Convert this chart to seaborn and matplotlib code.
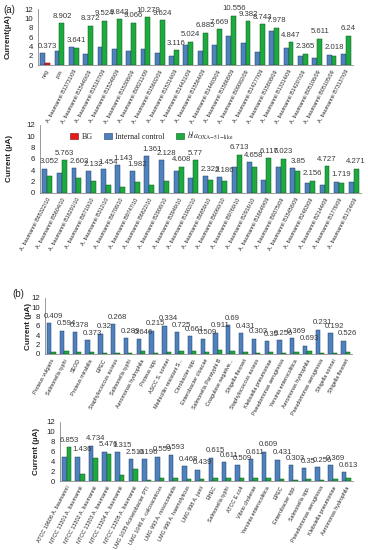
import numpy as np
import pandas as pd
import matplotlib
matplotlib.use("Agg")
import matplotlib.pyplot as plt
from matplotlib.patches import Patch
import seaborn as sns

sns.set_style("white")
plt.rcParams['font.family'] = ['Liberation Sans', 'DejaVu Sans']
plt.rcParams['mathtext.fontset'] = 'stix'

# ---------------- data ----------------
a1_cats = ['neg', 'pos', 'A. baumannii B13731/09', 'A. baumannii B15440/09', 'A. baumannii B15187/09',
           'A. baumannii B15348/09', 'A. baumannii B15308/09', 'A. baumannii B08211/09',
           'A. baumannii B15602/09', 'A. baumannii B15314/09', 'A. baumannii B14431/09',
           'A. baumannii B15564/09', 'A. baumannii B14403/09', 'A. baumannii B15868/09',
           'A. baumannii B09082/09', 'A. baumannii B14277/09', 'A. baumannii B15808/09',
           'A. baumannii B13314/09', 'A. baumannii B14207/09', 'A. baumannii B05106/09',
           'A. baumannii B05105/09', 'A. baumannii B73137/09']
a1_control = [2.5, 2.9, 3.8, 2.3, 3.9, 3.4, 3.1, 3.4, 2.6, 2.0, 4.2, 2.9, 4.3, 6.3, 4.7, 2.8, 7.3, 3.6, 1.9, 1.5, 2.2, 2.4]
a1_target = [0.373, 8.902, 3.641, 8.372, 9.524, 9.843, 9.066, 10.279, 9.624, 3.116, 5.024,
             6.885, 7.669, 10.556, 9.382, 8.743, 7.978, 4.847, 2.365, 5.611, 2.018, 6.24]

a2_cats = ['A. baumannii B65322/10', 'A. baumannii B5604/10', 'A. baumannii B16291/10',
           'A. baumannii B8710/10', 'A. baumannii B312/10', 'A. baumannii B6708/10',
           'A. baumannii B9747/10', 'A. baumannii B6822/10', 'A. baumannii B2908/10',
           'A. baumannii B3949/10', 'A. baumannii B1902/10', 'A. baumannii B6859/10',
           'A. baumannii B6060/10', 'A. baumannii B9769/10', 'A. baumannii B2916/10',
           'A. baumannii B16649/09', 'A. baumannii B9375/09', 'A. baumannii B15458/09',
           'A. baumannii B2483/09', 'A. baumannii B2144/09', 'A. baumannii B1776/09',
           'A. baumannii B1724/09']
a2_control = [4.3, 3.5, 4.4, 3.8, 4.2, 4.9, 3.8, 6.5, 5.8, 3.9, 2.6, 3.0, 2.8, 4.5, 5.4, 2.3,
              4.5, 4.4, 1.8, 1.4, 2.0, 1.9]
a2_target = [3.052, 5.763, 2.603, 2.132, 1.454, 1.143, 1.982, 1.361, 2.128, 4.608, 5.77,
             2.323, 2.186, 6.713, 4.658, 6.117, 6.023, 3.85, 2.156, 4.727, 1.719, 4.271]

b1_cats = ['Proteus vulgaris', 'Salmonella typhi', 'SEOD', 'Proteus mirabilis', 'EPEC',
           'Staphylococcus aureus', 'Salmonella typhi', 'Aeromonas hydrophila', 'Proteus spp.',
           'ASCC S. sonnei', 'Methicillin resistant S...', 'Citrobacter spp.',
           'Enterobacter cloacae', 'Salmonella Paratyphi B', 'Coagulase negative...',
           'Shigella flexneri', 'Staphylococcus aureus', 'Klebsiella pneumoniae',
           'Pseudomonas aeruginosa', 'Yersinia enterocolitica', 'Aeromonas hydrophila',
           'Pseudomonas aeruginosa', 'Shigella sonnei', 'Shigella flexneri']
b1_control = [6.6, 5.0, 4.7, 2.9, 4.3, 6.4, 3.4, 3.2, 5.0, 6.1, 4.7, 3.8, 3.2, 4.6, 6.2, 4.5,
              3.3, 2.7, 3.0, 3.4, 1.8, 5.2, 4.5, 2.8]
b1_target = [0.409, 0.594, 0.378, 0.373, 0.32, 0.268, 0.289, 0.646, 0.215, 0.334, 0.725,
             0.661, 0.509, 0.911, 0.69, 0.431, 0.303, 0.35, 0.256, 0.369, 0.693, 0.231,
             0.192, 0.526]

b2_cats = ['ATCC 19606 A. baumannii', 'NTCC 13301 A. baumannii', 'NTCC 13302 A. baumannii',
           'NTCC 13303 A. baumannii', 'NTCC 13304 A. baumannii', 'NTCC 13305 A. baumannii',
           'LMG 1035 Acinetobacter PTI', 'LMG 1046 A. calcoaceticus', 'LMG 993 A. nosocomialis',
           'LMG 996 A. haemolyticus', 'LMG 998 A. junii', 'EHEC', 'Salmonella typhi',
           'ATCC E.coli', 'Vibrio cholerae', 'Yersinia enterocolitica', 'EPEC',
           'Enterobacter spp.', 'Salmonella spp.', 'Pseudomonas aeruginosa',
           'Klebsiella pneumoniae', 'Aeromonas hydrophila']
b2_control = [4.9, 4.9, 7.2, 6.0, 5.8, 4.4, 4.4, 4.9, 5.3, 3.0, 2.3, 4.7, 3.8, 3.2, 4.4, 6.0,
              4.3, 3.2, 2.6, 2.8, 3.2, 1.8]
b2_target = [6.853, 1.436, 4.734, 5.476, 1.315, 2.516, 0.196, 0.559, 0.593, 0.468, 0.439,
             0.615, 0.611, 0.509, 0.611, 0.609, 0.431, 0.303, 0.35, 0.256, 0.369, 0.613]

yticks = [0, 2, 4, 6, 8, 10, 12]
series_names = ['Internal control', 'Target']

BLUE = '#4F81BD'
GREEN = '#1FAA3F'
RED = '#E41A1C'
W, H = 368, 550

fig = plt.figure(figsize=(W / 100, H / 100), dpi=100)


def panel(box, cats, control, target, ylabel, ylabel_x, red_first=False):
    l, r, t, b = box
    ax = fig.add_axes([l / W, 1 - b / H, (r - l) / W, (b - t) / H])
    n = len(cats)
    keys = [f'{i:02d}' for i in range(n)]
    df = pd.DataFrame({
        'key': keys * 2,
        'series': [series_names[0]] * n + [series_names[1]] * n,
        'value': list(control) + list(target),
    })
    sns.barplot(data=df, x='key', y='value', hue='series', order=keys, hue_order=series_names,
                palette=[BLUE, GREEN], width=0.68, ax=ax, legend=False, saturation=1,
                edgecolor='#1f3f6a', linewidth=0.35)
    for p in ax.containers[1]:
        p.set_edgecolor('#0c5a1e')
    if red_first:
        ax.containers[1][0].set_facecolor(RED)
        ax.containers[1][0].set_edgecolor('#7a0a0a')
    # value labels
    for i in range(n):
        pg = ax.containers[1][i]
        xc = pg.get_x() + pg.get_width() / 2
        top = max(control[i], target[i])
        ax.annotate(f'{target[i]:g}', xy=(xc, top), xytext=(0, 2.5), textcoords='offset points',
                    ha='center', va='bottom', fontsize=5.6, color='#3a3a3a')
    ax.set_ylim(0, 12)
    ax.set_yticks(yticks)
    ax.set_yticklabels([str(v) for v in yticks], fontsize=5.6, color='#222')
    ax.set_xlim(-0.5, n - 0.5)
    ax.set_xticks(range(n))
    ax.set_xticklabels(cats, rotation=62, ha='right', rotation_mode='anchor', fontsize=3.9,
                       color='#222')
    ax.set_xticks(np.arange(n + 1) - 0.5, minor=True)
    ax.tick_params(axis='x', which='major', length=0, pad=3)
    ax.tick_params(axis='x', which='minor', length=2, width=0.4, color='#888')
    ax.tick_params(axis='y', length=2, width=0.4, color='#888', pad=1.5)
    ax.set_xlabel('')
    ax.set_ylabel(ylabel, fontsize=5.8, fontweight='bold', color='#222')
    ax.yaxis.set_label_coords((ylabel_x - l) / (r - l), 0.5)
    for s in ['top', 'right']:
        ax.spines[s].set_visible(False)
    for s in ['left', 'bottom']:
        ax.spines[s].set_color('#8a8a8a')
        ax.spines[s].set_linewidth(0.6)
    return ax


ax1 = panel((38, 353, 9, 65), a1_cats, a1_control, a1_target, 'Current(µA)', 12, red_first=True)
ax2 = panel((40, 361, 125, 193), a2_cats, a2_control, a2_target, 'Current (µA)', 13)
ax3 = panel((45, 352, 298, 354), b1_cats, b1_control, b1_target, 'Current (µA)', 32)
ax4 = panel((60, 353, 422, 481), b2_cats, b2_control, b2_target, 'Current (µA)', 40)

handles = [Patch(facecolor=RED, edgecolor='#7a0a0a', linewidth=0.4),
           Patch(facecolor=BLUE, edgecolor='#1f3f6a', linewidth=0.4),
           Patch(facecolor=GREEN, edgecolor='#0c5a1e', linewidth=0.4)]
fig.legend(handles, ['BG', 'Internal control', r'$bla_{\mathrm{OXA\!-\!51\!-\!like}}$'],
           loc='center', bbox_to_anchor=(152 / W, 1 - 136 / H), ncol=3, frameon=False,
           prop={'family': 'Liberation Serif', 'size': 5.8}, handlelength=1.0, handleheight=0.8,
           handletextpad=0.4, columnspacing=1.4, borderpad=0)

fig.text(3 / W, 1 - 10 / H, '(a)', fontsize=7, va='center', ha='left')
fig.text(12 / W, 1 - 294 / H, '(b)', fontsize=7, va='center', ha='left')

fig.savefig('out.png', dpi=100)
